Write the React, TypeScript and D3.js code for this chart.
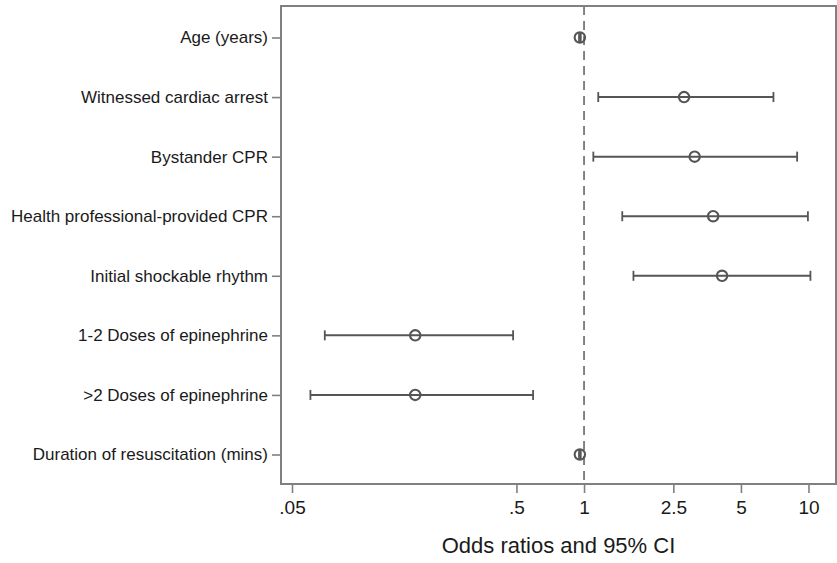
import React, { useRef, useEffect } from 'react';
import * as d3 from 'd3';

// Forest plot: odds ratios with 95% CI (log scale)
const labels = [
    'Age (years)',
    'Witnessed cardiac arrest',
    'Bystander CPR',
    'Health professional-provided CPR',
    'Initial shockable rhythm',
    '1-2 Doses of epinephrine',
    '>2 Doses of epinephrine',
    'Duration of resuscitation (mins)',
];
const oddsRatios = [0.958, 2.79, 3.11, 3.76, 4.12, 0.177, 0.177, 0.958];
const ciLow = [0.95, 1.157, 1.1, 1.48, 1.66, 0.07, 0.0604, 0.95];
const ciHigh = [0.967, 6.98, 8.9, 9.94, 10.2, 0.483, 0.593, 0.967];
const xTicks = [0.05, 0.5, 1, 2.5, 5, 10];
const xTickLabels = ['.05', '.5', '1', '2.5', '5', '10'];
const xTitle = 'Odds ratios and 95% CI';

const FONT = '"Liberation Sans", Arial, Helvetica, sans-serif';

const App: React.FC = () => {
    const svgRef = useRef<SVGSVGElement | null>(null);

    useEffect(() => {
        if (!svgRef.current) return;

        const width = 837;
        const height = 563;
        const frame = { left: 281, right: 836, top: 6, bottom: 484 };

        const xScale = d3.scaleLog().domain([0.05, 10]).range([292, 808.5]);
        const yScale = d3.scalePoint<string>().domain(labels).range([37.5, 454.5]);

        const svg = d3.select(svgRef.current);
        svg.selectAll('*').remove();
        svg.attr('width', width).attr('height', height);

        svg.append('rect')
            .attr('width', width)
            .attr('height', height)
            .attr('fill', '#fff');

        // Reference line at OR = 1
        svg.append('line')
            .attr('x1', xScale(1))
            .attr('x2', xScale(1))
            .attr('y1', frame.top)
            .attr('y2', frame.bottom)
            .attr('stroke', '#666')
            .attr('stroke-width', 1.6)
            .attr('stroke-dasharray', '9,6');

        // Axes
        const xAxis = svg.append('g')
            .attr('transform', `translate(0,${frame.bottom})`)
            .call(
                d3.axisBottom(xScale)
                    .tickValues(xTicks)
                    .tickFormat((_d, i) => xTickLabels[i])
                    .tickSize(9)
                    .tickPadding(8)
            );
        xAxis.select('.domain').remove();
        xAxis.selectAll('line').attr('stroke', '#808080').attr('stroke-width', 1.6);
        xAxis.selectAll('text')
            .attr('fill', '#1a1a1a')
            .attr('font-size', 19)
            .attr('font-family', FONT);

        const yAxis = svg.append('g')
            .attr('transform', `translate(${frame.left},0)`)
            .call(d3.axisLeft(yScale).tickSize(9).tickPadding(4));
        yAxis.select('.domain').remove();
        yAxis.selectAll('line').attr('stroke', '#808080').attr('stroke-width', 1.6);
        yAxis.selectAll('text')
            .attr('fill', '#1a1a1a')
            .attr('font-size', 17)
            .attr('font-family', FONT);

        // Plot frame
        svg.append('rect')
            .attr('x', frame.left)
            .attr('y', frame.top)
            .attr('width', frame.right - frame.left)
            .attr('height', frame.bottom - frame.top)
            .attr('fill', 'none')
            .attr('stroke', '#808080')
            .attr('stroke-width', 2);

        const rows = labels.map((name, i) => ({
            name,
            or: oddsRatios[i],
            lo: ciLow[i],
            hi: ciHigh[i],
        }));

        const g = svg.append('g');

        // CI lines
        g.selectAll('line.ci')
            .data(rows)
            .join('line')
            .attr('class', 'ci')
            .attr('x1', d => xScale(d.lo))
            .attr('x2', d => xScale(d.hi))
            .attr('y1', d => yScale(d.name)!)
            .attr('y2', d => yScale(d.name)!)
            .attr('stroke', '#555')
            .attr('stroke-width', 2);

        // CI caps
        const caps = rows.flatMap(d => [
            { name: d.name, v: d.lo },
            { name: d.name, v: d.hi },
        ]);
        g.selectAll('line.cap')
            .data(caps)
            .join('line')
            .attr('class', 'cap')
            .attr('x1', d => xScale(d.v))
            .attr('x2', d => xScale(d.v))
            .attr('y1', d => yScale(d.name)! - 5)
            .attr('y2', d => yScale(d.name)! + 5)
            .attr('stroke', '#555')
            .attr('stroke-width', 1.8);

        // Point estimates
        g.selectAll('circle')
            .data(rows)
            .join('circle')
            .attr('cx', d => xScale(d.or))
            .attr('cy', d => yScale(d.name)!)
            .attr('r', 5.2)
            .attr('fill', '#fff')
            .attr('fill-opacity', 0)
            .attr('stroke', '#555')
            .attr('stroke-width', 2.1);

        // Axis title
        svg.append('text')
            .attr('x', (frame.left + frame.right) / 2)
            .attr('y', 553)
            .attr('text-anchor', 'middle')
            .attr('fill', '#1a1a1a')
            .attr('font-size', 22)
            .attr('font-family', FONT)
            .text(xTitle);
    }, []);

    return (
        <svg
            ref={svgRef}
            width={837}
            height={563}
            style={{ position: 'absolute', left: 0, top: 0, display: 'block' }}
        />
    );
};

export default App;
